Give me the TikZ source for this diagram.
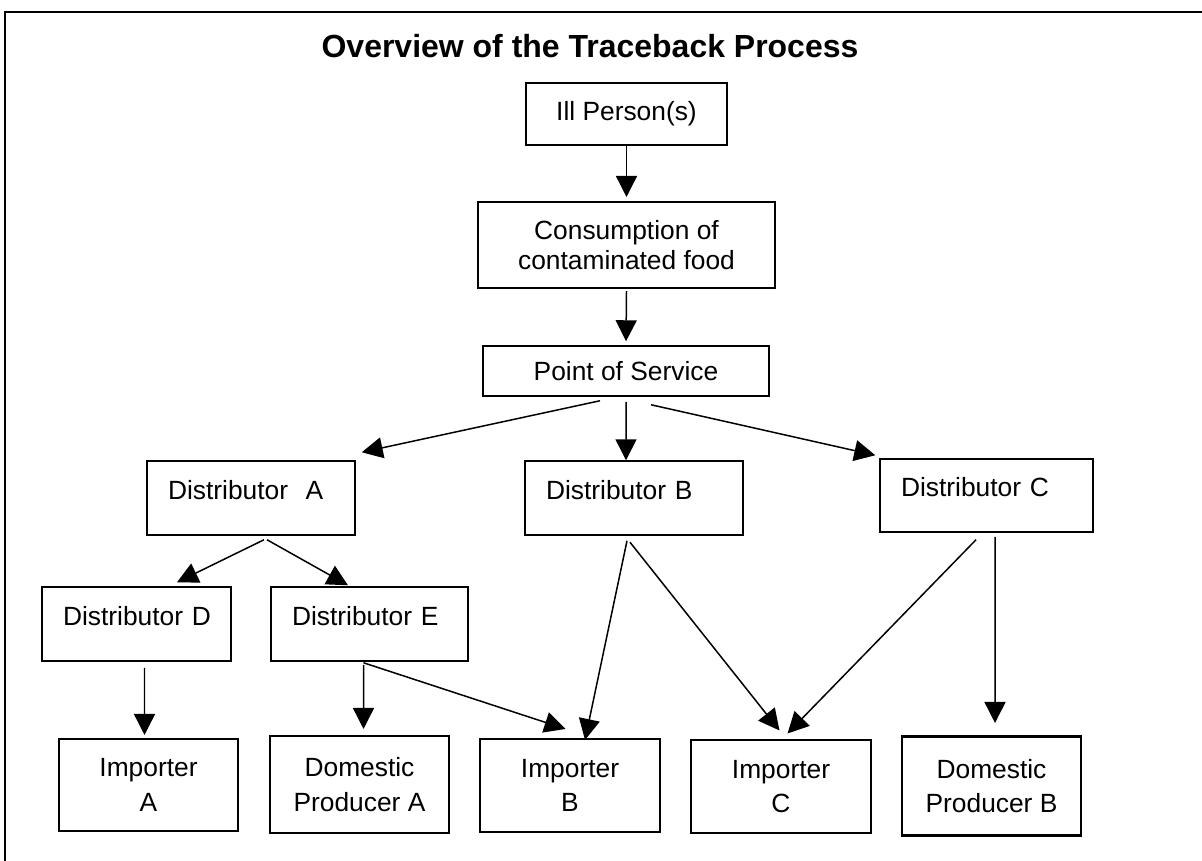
\documentclass[tikz,border=0pt]{standalone}
\usepackage{fontspec}
\setmainfont{Liberation Sans}
\usetikzlibrary{arrows.meta}

\begin{document}
\begin{tikzpicture}[
    x=0.02cm, y=-0.02cm,
    box/.style={draw=black, line width=0.85pt, align=center, inner sep=0pt,
                font=\fontsize{15}{16.8}\selectfont},
    boldbox/.style={box, line width=1.2pt},
    distbox/.style={box, align=left, inner xsep=0pt, inner ysep=0pt,
                    text depth=0.33cm, minimum height=1.48cm,
                    execute at begin node=\hspace*{0.42cm}},
    endbox/.style={boldbox, font=\fontsize{15}{19.6}\selectfont},
    arrow/.style={line width=0.85pt, -{Triangle[length=0.42cm, width=0.42cm]}},
    frame/.style={line width=1.5pt}
]
\useasboundingbox (0,0) rectangle (1202,860);

% =========================================================
% FRAME AND TITLE
% =========================================================
\draw[frame] (5,870) -- (5,12) -- (1210,12);
\node[font=\fontsize{18.2}{20}\selectfont\bfseries] (title) at (590,46)
      {Overview of the Traceback Process};

% =========================================================
% TOP CHAIN
% =========================================================
\node[box, minimum width=4.02cm, minimum height=1.24cm] (ill) at (626.5,114) {Ill Person(s)};
\node[boldbox, minimum width=5.94cm, minimum height=1.72cm] (cons) at (626.5,245)
      {Consumption of\\contaminated food};
\node[box, minimum width=5.72cm, minimum height=1.0cm] (pos) at (626,371) {Point of Service};

\draw[arrow] (ill.south) -- ([yshift=0.08cm]cons.north);
\draw[arrow] ([yshift=-0.04cm]cons.south) -- ([yshift=0.08cm]pos.north);

% =========================================================
% DISTRIBUTORS
% =========================================================
\node[distbox, text width=4.16cm] (distA) at (251,498) {Distributor~~A};
\node[distbox, text width=4.36cm] (distB) at (634,498) {Distributor B};
\node[distbox, text width=4.26cm, minimum height=1.46cm] (distC) at (986.5,495.5) {Distributor C};
\node[distbox, text width=3.78cm] (distD) at (136.5,624) {Distributor D};
\node[distbox, text width=3.94cm] (distE) at (369.5,624) {Distributor E};

% point of service fans out
\draw[arrow] ([xshift=-0.52cm, yshift=-0.08cm]pos.south) -- ([xshift=0.12cm, yshift=0.16cm]distA.north east);
\draw[arrow] ([yshift=-0.1cm]pos.south) -- ([xshift=-0.16cm]distB.north);
\draw[arrow] ([xshift=0.5cm, yshift=-0.16cm]pos.south) -- ([xshift=-0.08cm, yshift=0.06cm]distC.north west);

% distributor A splits
\draw[arrow] ([xshift=0.26cm, yshift=-0.08cm]distA.south) -- ([xshift=0.81cm, yshift=0.08cm]distD.north);
\draw[arrow] ([xshift=0.32cm, yshift=-0.08cm]distA.south) -- ([xshift=-0.43cm, yshift=0.02cm]distE.north);

% =========================================================
% SOURCES
% =========================================================
\node[endbox, minimum width=3.58cm, minimum height=1.84cm] (impA) at (148.5,785) {Importer\\A};
\node[endbox, minimum width=3.58cm, minimum height=1.94cm] (prodA) at (359.5,784.5) {Domestic\\Producer A};
\node[endbox, minimum width=3.6cm, minimum height=1.86cm] (impB) at (570,785.5) {Importer\\B};
\node[endbox, minimum width=3.6cm, minimum height=1.86cm] (impC) at (781,786.5) {Importer\\C};
\node[endbox, minimum width=3.58cm, minimum height=1.98cm] (prodB) at (991.5,786) {Domestic\\Producer B};

\draw[arrow] ([xshift=0.16cm, yshift=-0.12cm]distD.south) -- ([xshift=-0.08cm, yshift=0.06cm]impA.north);
\draw[arrow] ([xshift=-0.12cm, yshift=-0.06cm]distE.south) -- ([xshift=0.08cm, yshift=0.12cm]prodA.north);
\draw[arrow] ([xshift=-0.12cm, yshift=-0.02cm]distE.south) -- ([xshift=-0.09cm, yshift=0.18cm]impB.north);
\draw[arrow] ([xshift=-0.14cm, yshift=-0.1cm]distB.south) -- ([xshift=0.3cm, yshift=-0.04cm]impB.north);
\draw[arrow] ([xshift=-0.08cm, yshift=-0.13cm]distB.south) -- ([xshift=-0.03cm, yshift=0.17cm]impC.north);
\draw[arrow] ([xshift=-0.21cm, yshift=-0.14cm]distC.south) -- ([xshift=0.13cm, yshift=0.11cm]impC.north);
\draw[arrow] ([xshift=0.17cm, yshift=-0.08cm]distC.south) -- ([xshift=0.07cm, yshift=0.25cm]prodB.north);

\end{tikzpicture}
\end{document}
